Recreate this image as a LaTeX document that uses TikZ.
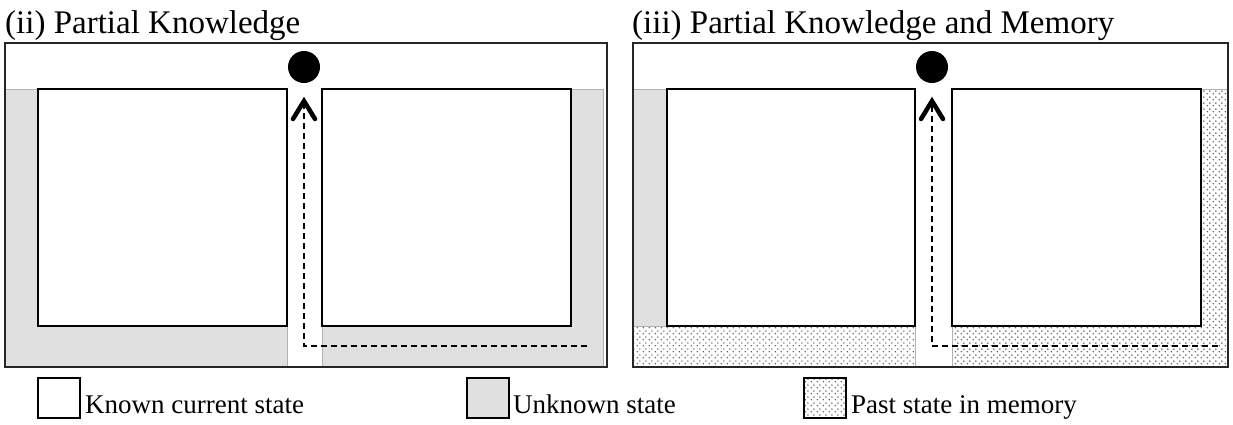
\documentclass[tikz,border=0pt]{standalone}
\usepackage{fontspec}
\setmainfont{Liberation Serif}
\usetikzlibrary{arrows.meta,patterns.meta}

% fine staggered dot texture for states kept in memory
\tikzdeclarepattern{
  name=memdots,
  type=uncolored,
  bounding box={(0pt,0pt) and (6pt,6pt)},
  tile size={(6pt,6pt)},
  code={
    \fill (1.5pt,1.5pt) circle (0.9pt);
    \fill (4.5pt,4.5pt) circle (0.9pt);
  }
}

\tikzset{
  panel/.style={draw=black!85, line width=2pt},
  known/.style={draw=black, line width=1.8pt, fill=white, inner sep=0pt, outer sep=0pt, anchor=north west},
  unknown/.style={fill=black!12, draw=black!30, line width=0.8pt},
  memory/.style={pattern=memdots, pattern color=black!65, draw=black!30, line width=0.8pt},
  agent/.style={circle, fill=black, inner sep=0pt, outer sep=0pt, minimum size=32pt},
  trail/.style={line width=1.6pt, dash pattern=on 6pt off 4pt, shorten >=18pt},
  head/.style={line width=4.5pt, line cap=round, line join=miter},
  title/.style={anchor=base west, inner sep=0pt, font=\fontsize{33}{36}\selectfont},
  keybox/.style={line width=1.5pt, draw=black, minimum width=42pt, minimum height=40pt,
    inner sep=0pt, outer sep=0pt, anchor=north west},
  keytext/.style={anchor=base west, inner sep=0pt, font=\fontsize{27}{30}\selectfont}
}

\begin{document}
\begin{tikzpicture}[x=1pt,y=-1pt]
\useasboundingbox (0,0) rectangle (1233,424);

% ---------- (ii) Partial Knowledge ----------
\node[title] (t2) at (5,33) {(ii) Partial Knowledge};
\draw[unknown] (5,89) rectangle (287,367);
\draw[unknown] (322,89) rectangle (603,367);
\node[known, minimum width=249pt, minimum height=237pt] (a) at (38,89) {};
\node[known, minimum width=249pt, minimum height=237pt] (b) at (322,89) {};
\draw[panel] (5,43) rectangle (607,367);
\node[agent] (p2) at (304,67) {};
\coordinate (s2) at (587,346);
\coordinate (h2) at ([yshift=-18pt]p2.south);
\draw[trail] (s2) -- (p2 |- s2) -- (p2.south);
\draw[head] ([shift={(-11,18)}]h2) -- (h2) -- ([shift={(11,18)}]h2);

% ---------- (iii) Partial Knowledge and Memory ----------
\node[title] (t3) at (632,33) {(iii) Partial Knowledge and Memory};
\draw[unknown] (633,89) rectangle (667,326);
\draw[memory] (633,326) rectangle (915,367);
\draw[memory] (952,326) -- (952,367) -- (1228,367) -- (1228,89) -- (1201,89) -- (1201,326) -- cycle;
\node[known, minimum width=248pt, minimum height=237pt] (c) at (667,89) {};
\node[known, minimum width=249pt, minimum height=237pt] (d) at (952,89) {};
\draw[panel] (633,43) rectangle (1228,367);
\node[agent] (p3) at (932,67) {};
\coordinate (s3) at (1218,346);
\coordinate (h3) at ([yshift=-18pt]p3.south);
\draw[trail] (s3) -- (p3 |- s3) -- (p3.south);
\draw[head] ([shift={(-11,18)}]h3) -- (h3) -- ([shift={(11,18)}]h3);

% ---------- key ----------
\node[keybox, fill=white] (k1) at (38,378) {};
\node[keytext] (k1t) at (85,413) {Known current state};
\node[keybox, fill=black!12] (k2) at (467,378) {};
\node[keytext] (k2t) at (513,413) {Unknown state};
\node[keybox, pattern=memdots, pattern color=black!65] (k3) at (804,378) {};
\node[keytext] (k3t) at (851,413) {Past state in memory};
\end{tikzpicture}
\end{document}
